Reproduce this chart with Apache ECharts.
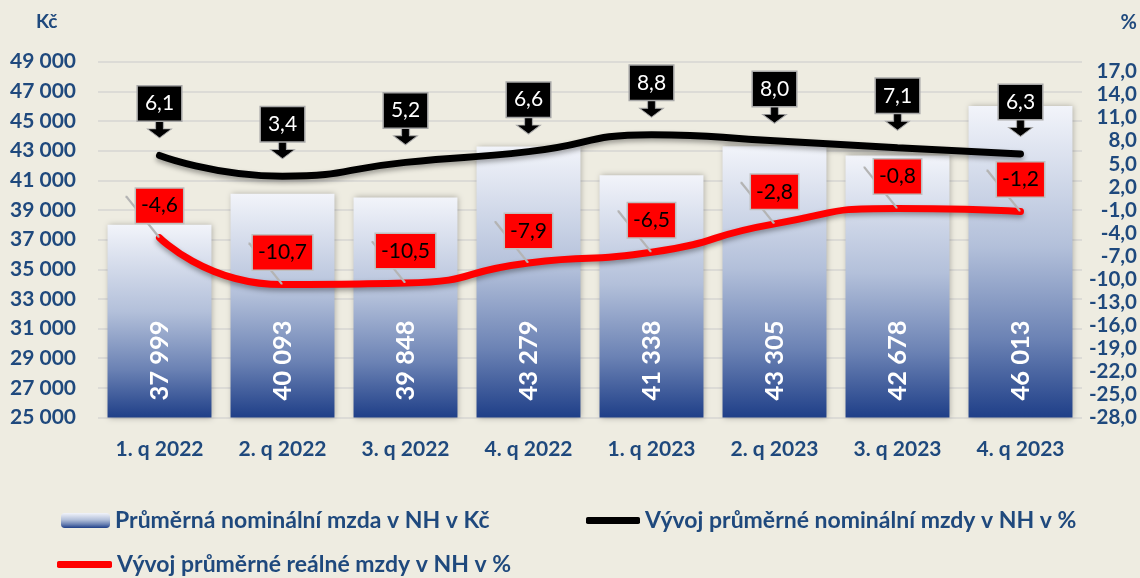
<!DOCTYPE html>
<html>
<head>
<meta charset="utf-8">
<script src="https://cdn.jsdelivr.net/npm/echarts@6/dist/echarts.min.js"></script>
<style>
html,body{margin:0;padding:0;background:#EEECE1;}
#c{width:1140px;height:578px;}
</style>
</head>
<body>
<div id="c"></div>
<script>
const categories = ['1. q 2022', '2. q 2022', '3. q 2022', '4. q 2022', '1. q 2023', '2. q 2023', '3. q 2023', '4. q 2023'];
const wageKc = [37999, 40093, 39848, 43279, 41338, 43305, 42678, 46013];
const nominalPct = [6.1, 3.4, 5.2, 6.6, 8.8, 8.0, 7.1, 6.3];
const realPct = [-4.6, -10.7, -10.5, -7.9, -6.5, -2.8, -0.8, -1.2];
const leftTicks = { min: 25000, max: 49000, interval: 2000 };
const rightTicks = { min: -28, max: 18.3, interval: 3, lastLabel: 17 };

const nameBar = 'Průměrná nominální mzda v NH v Kč';
const nameNom = 'Vývoj průměrné nominální mzdy v NH v %';
const nameReal = 'Vývoj průměrné reálné mzdy v NH v %';

const BLUE = '#1F497D';
const FONT = 'Lato';
const fmtThousands = v => String(Math.round(v)).replace(/\B(?=(\d{3})+(?!\d))/g, ' ');
const fmtPct = v => v.toFixed(1).replace('.', ',');

const chart = echarts.init(document.getElementById('c'), null, { renderer: 'canvas' });

const legendText = { color: BLUE, fontFamily: FONT, fontWeight: 'bold', fontSize: 23 };
const barGradient = () => new echarts.graphic.LinearGradient(0, 0, 0, 1, [
  { offset: 0, color: '#F2F4FA' },
  { offset: 0.45, color: '#B3C0DA' },
  { offset: 0.75, color: '#6B82B4' },
  { offset: 1, color: '#1F3F88' }
]);

chart.setOption({
  backgroundColor: '#EEECE1',
  animation: false,
  textStyle: { fontFamily: FONT },
  graphic: [
    { type: 'text', left: 36, top: 12, style: { text: 'Kč', fill: BLUE, font: 'bold 19px Lato' } },
    { type: 'text', right: 3, top: 13, style: { text: '%', fill: BLUE, font: 'bold 20px Lato' } }
  ],
  grid: { left: 98, right: 58, top: 61.7, bottom: 160.5 },
  legend: [
    { data: [{ name: nameBar, itemStyle: { color: barGradient() } }], left: 61, top: 509, padding: 0, itemWidth: 49, itemHeight: 15, itemGap: 0, textStyle: legendText, selectedMode: false },
    { data: [{ name: nameNom, icon: 'roundRect' }], left: 586, top: 509, padding: 0, itemWidth: 54, itemHeight: 7, itemStyle: { color: '#000000' }, textStyle: legendText, selectedMode: false },
    { data: [{ name: nameReal, icon: 'roundRect' }], left: 57, top: 553, padding: 0, itemWidth: 55, itemHeight: 7, itemStyle: { color: '#FF0000' }, textStyle: legendText, selectedMode: false }
  ],
  xAxis: {
    type: 'category',
    data: categories,
    boundaryGap: true,
    axisLine: { show: false },
    axisTick: { show: false },
    axisLabel: { color: BLUE, fontFamily: FONT, fontWeight: 'bold', fontSize: 21, margin: 21 }
  },
  yAxis: [
    {
      type: 'value',
      min: leftTicks.min, max: leftTicks.max, interval: leftTicks.interval,
      axisLine: { show: false }, axisTick: { show: false },
      splitLine: { show: true, lineStyle: { color: '#D6D6D2', width: 1.5 } },
      axisLabel: { color: BLUE, fontFamily: FONT, fontWeight: 'bold', fontSize: 21, margin: 22, formatter: fmtThousands }
    },
    {
      type: 'value', position: 'right',
      min: rightTicks.min, max: rightTicks.max, interval: rightTicks.interval,
      axisLine: { show: false }, axisTick: { show: false },
      splitLine: { show: false },
      axisLabel: {
        color: BLUE, fontFamily: FONT, fontWeight: 'bold', fontSize: 20.5, margin: 55, align: 'right',
        showMaxLabel: false,
        formatter: v => (v > rightTicks.lastLabel + 0.01 ? '' : fmtPct(v))
      }
    }
  ],
  series: [
    {
      name: nameBar,
      type: 'bar',
      data: wageKc,
      barWidth: '84.5%',
      z: 2,
      itemStyle: {
        color: barGradient(),
        shadowColor: 'rgba(0,0,0,0.28)',
        shadowBlur: 6,
        shadowOffsetX: 1,
        shadowOffsetY: 0
      },
      label: {
        show: true,
        position: 'insideBottom',
        rotate: 90,
        align: 'left',
        verticalAlign: 'middle',
        distance: 17,
        color: '#FFFFFF',
        fontFamily: FONT,
        fontWeight: 'bold',
        fontSize: 25.5,
        formatter: p => fmtThousands(p.value)
      }
    },
    {
      name: nameNom,
      type: 'line',
      yAxisIndex: 1,
      data: nominalPct,
      smooth: 0.55,
      symbol: 'none',
      z: 4,
      itemStyle: { color: '#000000' },
      lineStyle: { color: '#000000', width: 7, cap: 'round', shadowColor: 'rgba(0,0,0,0.35)', shadowBlur: 5, shadowOffsetY: 3 }
    },
    {
      name: nameReal,
      type: 'line',
      yAxisIndex: 1,
      data: realPct,
      smooth: 0.6,
      symbol: 'none',
      z: 4,
      itemStyle: { color: '#FF0000' },
      lineStyle: { color: '#FF0000', width: 7, cap: 'round', shadowColor: 'rgba(0,0,0,0.35)', shadowBlur: 5, shadowOffsetY: 3 }
    },
    {
      name: 'nomLabels',
      type: 'scatter',
      yAxisIndex: 1,
      data: nominalPct,
      silent: true,
      z: 6,
      symbol: 'path://M8,0 L16,0 L16,8 L24,8 L12,17 L0,8 L8,8 Z',
      symbolSize: [24, 17],
      symbolOffset: [0, -26],
      itemStyle: { color: '#000000', borderColor: '#A8A8A8', borderWidth: 1, opacity: 1 },
      label: {
        show: true,
        position: 'top',
        distance: 0,
        color: '#FFFFFF',
        fontFamily: FONT,
        fontSize: 21,
        lineHeight: 22,
        backgroundColor: '#000000',
        borderColor: '#A8A8A8',
        borderWidth: 1.5,
        padding: [6, 7, 6, 7],
        formatter: p => fmtPct(p.value)
      }
    },
    {
      name: 'realLabels',
      type: 'scatter',
      yAxisIndex: 1,
      data: realPct,
      silent: true,
      z: 6,
      symbol: 'path://M0,0 L1.6,0 L34,40.4 L34,42 L32.4,42 L0,1.6 Z',
      symbolSize: [34, 42],
      symbolOffset: [-17, -21],
      itemStyle: { color: '#B4B4B4', opacity: 1 },
      label: {
        show: true,
        position: 'inside',
        offset: [17, -11],
        color: '#000000',
        fontFamily: FONT,
        fontSize: 21,
        lineHeight: 22,
        backgroundColor: '#FF0000',
        borderColor: '#BFBFBF',
        borderWidth: 1.5,
        padding: [6, 5, 6, 5],
        formatter: p => fmtPct(p.value)
      }
    }
  ]
});
</script>
</body>
</html>
